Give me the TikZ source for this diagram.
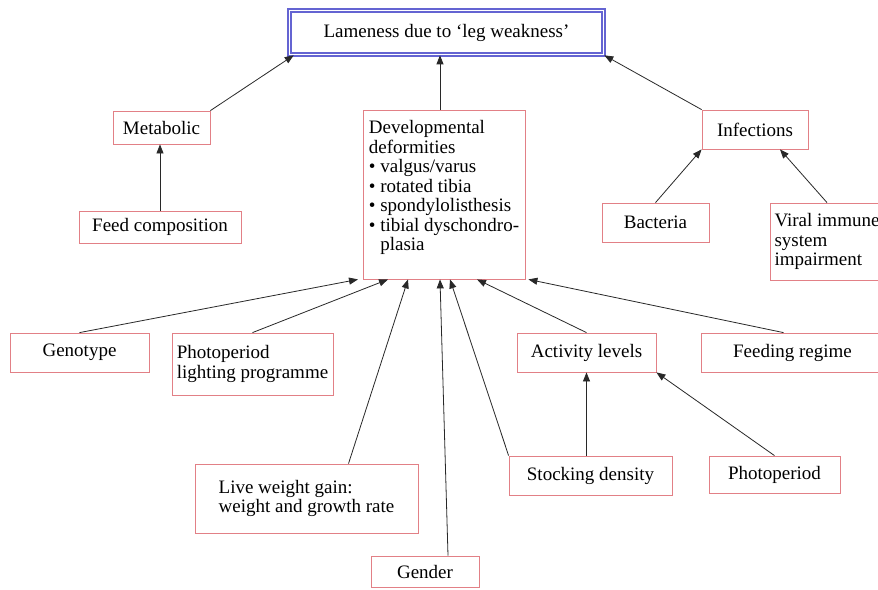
\documentclass[tikz,border=0pt]{standalone}
\usepackage{fontspec}
\setmainfont{Liberation Serif}
\usepackage{tikz}
\usetikzlibrary{arrows.meta}
\definecolor{boxred}{RGB}{226,128,134}
\definecolor{lameblue}{RGB}{100,100,210}
\definecolor{arrowgrey}{RGB}{40,40,40}

\begin{document}
\begin{tikzpicture}[x=1pt,y=-1pt]
	\useasboundingbox (0,0) rectangle (878,589);
	\clip (0,0) rectangle (878,589);
	\fill[white] (0,0) rectangle (878,589);

	\node[draw=lameblue,line width=1.6pt,double=white,double distance=1.2pt,
	      minimum width=314pt,minimum height=44pt,inner sep=0pt,
	      font=\fontsize{19}{19.5}\selectfont] (lame) at (446.5,32.5) {Lameness due to `leg weakness'};

	\begin{scope}[every node/.style={rectangle,draw=boxred,line width=0.8pt,inner sep=0pt,
	              align=left,font=\fontsize{19}{19.5}\selectfont}]
		\node[minimum width=97pt,minimum height=33pt] (metab) at (161.5,127.5) {Metabolic};
		\node[minimum width=162pt,minimum height=32pt] (feed) at (160,227) {Feed composition};
		\node[minimum width=162pt,minimum height=169pt,text depth=18pt] (dev) at (444,194.5) {Developmental\\deformities\\\textbullet\ valgus/varus\\\textbullet\ rotated tibia\\\textbullet\ spondylolisthesis\\\textbullet\ tibial dyschondro-\\\phantom{\textbullet\ }plasia};
		\node[minimum width=106pt,minimum height=39pt] (infec) at (755,129.5) {Infections};
		\node[minimum width=107pt,minimum height=39pt] (bact) at (655.5,222.5) {Bacteria};
		\node[minimum width=114pt,minimum height=77pt] (viral) at (827,241.5) {Viral immune\\system\\impairment};
		\node[minimum width=139pt,minimum height=39pt] (geno) at (79.5,352.5) {Genotype};
		\node[minimum width=161pt,minimum height=62pt] (light) at (252.5,364) {Photoperiod\\lighting programme};
		\node[minimum width=139pt,minimum height=39pt] (act) at (586.5,352.5) {Activity levels};
		\node[minimum width=183pt,minimum height=39pt] (feedreg) at (792.5,352.5) {Feeding regime};
		\node[minimum width=223pt,minimum height=69pt] (live) at (306.5,498.5) {Live weight gain:\\weight and growth rate};
		\node[minimum width=108pt,minimum height=31pt] (gender) at (425,571.5) {Gender};
		\node[minimum width=163pt,minimum height=39pt] (stock) at (590.5,475.5) {Stocking density};
		\node[minimum width=131pt,minimum height=37pt] (photo) at (774.5,474.5) {Photoperiod};
	\end{scope}

	\begin{scope}[>={Triangle[length=9pt,width=7pt]},
	              every edge/.style={draw=arrowgrey,line width=0.8pt,->}]
		\path (metab.north east) edge ([xshift=5pt]lame.south west);
		\path ([xshift=-4pt]dev.north) edge ([xshift=-4pt]dev.north |- lame.south);
		\path (infec.north west) edge (lame.south east);
		\path (feed.north) edge (feed.north |- metab.south);
		\path (bact.north) edge (infec.south west);
		\path (viral.north) edge ([xshift=25pt]infec.south);
		\path (geno.north) edge ([xshift=-86pt]dev.south);
		\path (light.north) edge ([xshift=-56pt]dev.south);
		\path ([xshift=42pt]live.north) edge ([xshift=-36pt]dev.south);
		\path ([xshift=23pt]gender.north) edge ([xshift=-4pt]dev.south);
		\path (stock.north west) edge ([xshift=6pt]dev.south);
		\path (act.north) edge ([xshift=33pt]dev.south);
		\path ([xshift=-9pt]feedreg.north) edge ([xshift=3pt]dev.south east);
		\path (act.south |- stock.north) edge (act.south);
		\path (photo.north) edge (act.south east);
	\end{scope}
\end{tikzpicture}
\end{document}
